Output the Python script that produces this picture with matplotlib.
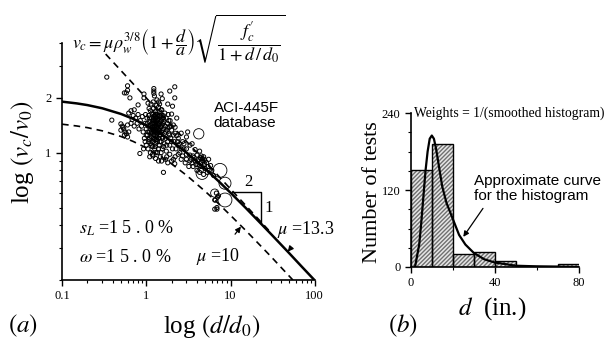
import numpy as np
import matplotlib
matplotlib.use('Agg')
import matplotlib.pyplot as plt
from matplotlib.ticker import FixedLocator, NullFormatter, MultipleLocator

plt.rcParams['font.family'] = ['Liberation Serif', 'DejaVu Serif']
plt.rcParams['mathtext.fontset'] = 'stix'

# ---- panel (a) data ----
# solid curve (mu = 13.3)
solid_x = [0.1, 0.15, 0.2, 0.3, 0.5, 0.7, 1, 1.5, 2, 3, 5, 7, 10, 15, 20, 30, 50, 70, 100]
solid_y = [1.907, 1.865, 1.826, 1.754, 1.633, 1.534, 1.414, 1.265, 1.155, 1.0,
           0.816, 0.707, 0.603, 0.5, 0.436, 0.359, 0.28, 0.237, 0.199]
# dashed curve (mu = 10)
dash_x = [0.1, 0.15, 0.2, 0.3, 0.5, 0.7, 1, 1.5, 2, 3, 5, 7, 10, 15, 20, 30, 55]
dash_y = [1.434, 1.402, 1.373, 1.319, 1.228, 1.153, 1.063, 0.951, 0.868, 0.752,
          0.614, 0.532, 0.453, 0.376, 0.328, 0.270, 0.2]
# dashed asymptote of slope -1/2
asym_x = [0.33, 30]
asym_y = [3.48, 0.365]
# slope triangle
tri_x = [10.5, 22.9, 22.9]
tri_y = [0.611, 0.611, 0.409]

# test data (small circles)
pts_x = [0.34, 0.6, 0.6, 0.55, 0.58, 0.64, 0.94, 0.94, 1.23, 1.23, 1.5, 1.55, 1.9, 2.18,
         2.18, 1.05, 0.8, 0.39, 1.23, 1.25, 1.4, 1.8, 2.05,
         0.5, 0.52, 0.54, 0.5, 0.56, 0.58, 0.55, 0.6, 0.53, 0.62, 0.6,
         0.62, 0.66, 0.7, 0.72, 0.75, 0.8, 0.85, 0.68, 0.78, 0.9, 0.88, 0.82, 0.72, 0.66,
         0.92, 0.95, 0.97, 1.0, 1.0, 1.02, 1.03, 1.05, 1.05, 1.07, 1.08, 1.1, 1.1, 1.12,
         1.12, 1.13, 1.15, 1.15, 1.16, 1.17, 1.18, 1.18, 1.2, 1.2, 1.2, 1.22, 1.22, 1.23,
         1.24, 1.25, 1.25, 1.26, 1.27, 1.28, 1.28, 1.3, 1.3, 1.3, 1.31, 1.32, 1.33, 1.33,
         1.34, 1.35, 1.35, 1.36, 1.37, 1.38, 1.38, 1.4, 1.4, 1.41, 1.42, 1.43, 1.44, 1.45,
         1.45, 1.46, 1.47, 1.48, 1.5, 1.5, 1.52, 1.53, 1.55, 1.55, 1.57, 1.58, 1.6, 1.62,
         1.63, 1.65, 1.66, 1.68, 1.7, 1.72, 1.73, 1.75, 1.78, 1.8, 1.82, 1.85, 1.88, 1.9,
         1.92, 1.95, 2.0, 2.0, 2.05, 2.1, 2.15, 2.2, 2.3, 2.3, 2.4, 0.98, 1.08, 1.14, 1.19,
         1.29, 1.21, 1.34, 1.44, 1.52, 0.93,
         2.4, 2.7, 3.0, 3.3, 3.5, 2.8, 2.5, 2.2, 2.6, 3.0, 3.3, 3.6, 4.0, 4.5, 4.2, 3.8,
         4.4, 4.7, 4.9, 5.2, 4.6, 5.0, 4.3, 3.9, 3.5, 2.9, 3.2, 2.18, 2.0, 1.75, 1.2, 0.84,
         1.6, 3.1, 2.6, 3.8, 4.3, 5.5, 5.8, 5.3, 4.8, 4.3, 6.0, 6.3, 4.0,
         6.8, 7.0, 6.6, 7.2, 6.9, 6.9, 6.5, 6.5,
         1.1, 1.12, 1.14, 1.16, 1.18, 1.2, 1.22, 1.24, 1.26, 1.27, 1.28, 1.3, 1.32, 1.33,
         1.35, 1.36, 1.38, 1.39, 1.4, 1.42, 1.43, 1.45, 1.46, 1.48, 1.5, 1.5, 1.52, 1.55,
         1.56, 1.58, 1.6, 1.6, 1.25, 1.27, 1.29, 1.31, 1.33, 1.35, 1.37, 1.15, 1.17, 1.19,
         1.21, 1.23, 1.05, 1.07, 1.0, 0.97, 1.03, 1.09,
         1.7, 1.75, 1.8, 1.85, 1.9, 1.95, 2.0, 2.1, 2.2, 2.25, 2.35, 2.5, 2.6, 2.8, 3.0,
         3.4, 3.7, 4.1, 4.4, 4.6, 4.8, 5.0, 4.1, 3.6, 3.0, 2.7, 2.4, 5.4, 5.6, 4.5, 3.3, 4.9,
         1.1, 1.3, 1.5, 1.7, 1.9, 2.1, 1.8, 1.4]
pts_y = [2.6, 2.33, 2.2, 2.13, 2.13, 2.0, 2.1, 2.0, 2.18, 2.12, 2.1, 1.98, 2.18, 2.3,
         2.0, 1.87, 1.83, 1.51, 2.25, 2.05, 1.9, 1.85, 1.8,
         1.44, 1.4, 1.35, 1.33, 1.3, 1.27, 1.25, 1.22, 1.38, 1.3, 1.42,
         1.65, 1.7, 1.6, 1.72, 1.55, 1.62, 1.5, 1.52, 1.45, 1.58, 1.4, 1.35, 1.4, 1.45,
         1.3, 1.2, 1.45, 1.35, 1.1, 1.55, 1.25, 1.4, 1.05, 1.6, 1.18, 1.3, 1.48, 1.7,
         1.0, 1.12, 1.38, 1.22, 1.55, 1.65, 1.28, 1.08, 1.45, 1.35, 1.15, 1.75, 1.52, 1.25,
         1.4, 1.6, 1.3, 1.05, 1.2, 1.48, 1.35, 1.7, 1.42, 1.12, 1.25, 1.55, 1.82, 1.32,
         1.18, 1.62, 1.45, 1.0, 1.38, 1.28, 1.52, 1.78, 1.2, 1.42, 1.1, 1.58, 1.33, 1.68,
         1.25, 1.48, 0.95, 1.38, 1.15, 1.55, 1.3, 1.72, 1.42, 1.05, 1.22, 1.6, 1.35, 1.48,
         1.12, 1.28, 1.65, 1.4, 1.2, 1.55, 1.02, 1.33, 1.45, 1.15, 1.62, 1.27, 1.38, 1.1,
         1.5, 1.2, 1.63, 1.33, 1.05, 1.42, 1.15, 1.28, 1.24, 1.55, 1.1, 1.62, 1.75, 1.85,
         0.98, 0.93, 1.9, 1.95, 1.85, 0.9, 1.05,
         1.2, 1.15, 1.22, 1.1, 1.12, 1.05, 1.0, 0.95, 0.92, 0.98, 0.97, 0.96, 0.97, 0.96,
         0.92, 0.9, 0.88, 0.9, 0.86, 0.88, 0.84, 0.82, 0.85, 0.86, 0.88, 0.88, 0.84, 0.87,
         0.9, 0.95, 0.96, 0.99, 0.78, 1.3, 1.28, 1.04, 1.02, 0.92, 0.85, 0.78, 0.76, 0.78,
         0.8, 0.75, 0.8, 0.6, 0.57, 0.55, 0.58, 0.5, 0.49, 0.55, 0.49,
         1.2, 1.42, 1.28, 1.1, 1.5, 1.62, 1.32, 1.18, 1.45, 1.58, 1.08, 1.3, 1.4, 1.22,
         1.15, 1.5, 1.68, 1.35, 1.05, 1.3, 1.45, 1.15, 1.6, 1.25, 1.4, 1.72, 1.5, 1.2,
         1.32, 1.45, 1.08, 1.55, 1.38, 1.5, 1.62, 1.18, 1.48, 1.28, 1.58, 1.3, 1.45, 1.38,
         1.2, 1.55, 1.3, 1.15, 1.25, 1.15, 1.45, 1.55,
         1.3, 1.1, 1.38, 1.5, 1.25, 1.4, 1.15, 1.25, 1.38, 1.05, 1.15, 1.12, 1.05, 1.12, 1.05,
         0.92, 0.94, 0.9, 0.94, 0.93, 0.95, 0.9, 0.86, 0.84, 0.92, 0.96, 0.98, 0.84, 0.8,
         0.8, 0.9, 0.92,
         0.95, 1.0, 1.0, 0.92, 0.98, 0.92, 0.88, 0.9]
# larger circles
big_x = [4.2, 7.5, 8.6, 4.6, 8.6, 6.5]
big_y = [1.27, 0.8, 0.68, 0.77, 0.55, 0.6]
big_s = [55, 100, 75, 75, 100, 35]

# ---- panel (b) data ----
bin_left = [0, 10, 20, 30, 40, 50, 60, 70]
bin_count = [152, 192, 21, 23, 9, 1, 1, 4]
curve_d = [2, 4, 5, 6, 7, 8, 9, 10, 11, 12, 13, 14, 15, 17, 20, 23, 26, 30, 35, 40, 50, 60, 80]
curve_n = [0, 35, 70, 110, 150, 180, 200, 205, 200, 185, 165, 145, 125, 100, 75, 50, 35,
           22, 12, 7, 2, 1, 0]

fig = plt.figure(figsize=(6.15, 3.39), dpi=100)

# ================= panel (a) =================
ax = fig.add_axes([0.1008, 0.174, 0.411, 0.699])
ax.set_xscale('log')
ax.set_yscale('log')
ax.set_xlim(0.1, 100)
ax.set_ylim(0.2, 4)

ax.scatter(pts_x, pts_y, s=9, facecolors='none', edgecolors='black', linewidths=0.7, zorder=3)
ax.scatter(big_x, big_y, s=big_s, facecolors='none', edgecolors='black', linewidths=0.6, zorder=3)
ax.plot(solid_x, solid_y, color='black', lw=1.8, zorder=4)
ax.plot(dash_x, dash_y, color='black', lw=1.2, dashes=(4, 3), zorder=4)
ax.plot(asym_x, asym_y, color='black', lw=1.2, dashes=(4, 3), zorder=4)
ax.plot(tri_x, tri_y, color='black', lw=1.0, zorder=4)

for s in ['top', 'right']:
    ax.spines[s].set_visible(False)
for s in ['left', 'bottom']:
    ax.spines[s].set_linewidth(1.2)

ax.xaxis.set_major_locator(FixedLocator([0.1, 1, 10, 100]))
ax.set_xticklabels(['0.1', '1', '10', '100'], fontsize=9)
ax.yaxis.set_major_locator(FixedLocator([1, 2]))
ax.set_yticklabels(['1', '2'], fontsize=9)
ax.yaxis.set_minor_locator(FixedLocator([0.2, 0.3, 0.4, 0.5, 0.6, 0.7, 0.8, 0.9, 3, 4]))
ax.yaxis.set_minor_formatter(NullFormatter())
ax.tick_params(which='major', direction='out', length=4, width=1)
ax.tick_params(which='minor', direction='out', length=2.5, width=0.8)

ax.text(16.3, 0.625, '2', fontsize=12, ha='center', va='bottom')
ax.text(25.5, 0.5, '1', fontsize=12, ha='left', va='center')
ax.text(0.16, 0.385, r'$s_L$ =1 5 . 0 %', fontsize=13, ha='left', va='center')
ax.text(0.16, 0.267, r'$\omega$ =1 5 . 0 %', fontsize=13, ha='left', va='center')
ax.annotate(r'$\mu$ =10', xy=(13.3, 0.393), xytext=(3.9, 0.27), fontsize=13,
            ha='left', va='center',
            arrowprops=dict(arrowstyle='-|>', color='black', lw=0.9, shrinkA=8, shrinkB=0,
                            mutation_scale=8))
ax.annotate(r'$\mu$ =13.3', xy=(47.8, 0.286), xytext=(36, 0.38), fontsize=13,
            ha='left', va='center', annotation_clip=False,
            arrowprops=dict(arrowstyle='-|>', color='black', lw=0.9, shrinkA=6, shrinkB=0,
                            mutation_scale=8))
ax.text(6.3, 1.6, 'ACI-445F\ndatabase', fontsize=11, ha='left', va='center',
        family=['Liberation Sans Narrow', 'Liberation Sans'], linespacing=1.15)

fig.text(0.29, 0.885,
         r'$v_c = \mu\rho_w^{3/8}\left(1+\dfrac{d}{a}\right)\sqrt{\dfrac{f_c^{\prime}}{1+d\,/\,d_0}}$',
         fontsize=13, ha='center', va='center')
fig.text(0.036, 0.55, r'log $(v_c/v_0)$', fontsize=18, rotation=90, ha='center', va='center')
fig.text(0.345, 0.038, r'log $(d/d_0)$', fontsize=18, ha='center', va='center')
fig.text(0.037, 0.038, r'$(a)$', fontsize=18, ha='center', va='center')

# ================= panel (b) =================
bx = fig.add_axes([0.668, 0.2124, 0.273, 0.454])
bx.bar(bin_left, bin_count, width=10, align='edge', facecolor='#e6e6e6', edgecolor='#707070',
       hatch='////////', linewidth=0, zorder=1)
bx.bar(bin_left, bin_count, width=10, align='edge', fill=False, edgecolor='black',
       linewidth=1.0, zorder=2)
bx.plot(curve_d, curve_n, color='black', lw=1.6, zorder=3)
bx.set_xlim(0, 80)
bx.set_ylim(0, 240)
for s in ['top', 'right']:
    bx.spines[s].set_visible(False)
for s in ['left', 'bottom']:
    bx.spines[s].set_linewidth(1.2)
bx.xaxis.set_major_locator(FixedLocator([0, 40, 80]))
bx.xaxis.set_minor_locator(MultipleLocator(20))
bx.yaxis.set_major_locator(FixedLocator([0, 120, 240]))
bx.yaxis.set_minor_locator(MultipleLocator(30))
bx.tick_params(which='major', direction='out', length=4, width=1, labelsize=9)
bx.tick_params(which='minor', direction='out', length=2.5, width=0.8)

bx.text(1.5, 240, 'Weights = 1/(smoothed histogram)', fontsize=9.8, ha='left', va='center')
bx.annotate('Approximate curve\nfor the histogram', xy=(25, 47), xytext=(30, 122),
            fontsize=11, ha='left', va='center', linespacing=1.1,
            family=['Liberation Sans Narrow', 'Liberation Sans'],
            arrowprops=dict(arrowstyle='-|>', color='black', lw=0.9, shrinkA=2, shrinkB=0,
                            mutation_scale=8,
                            relpos=(0.1, 0.0)))

fig.text(0.605, 0.434, 'Number of tests', fontsize=16, rotation=90, ha='center', va='center')
fig.text(0.80, 0.09, r'$d$  (in.)', fontsize=18, ha='center', va='center')
fig.text(0.655, 0.038, r'$(b)$', fontsize=18, ha='center', va='center')

fig.savefig('out.png', dpi=100)
